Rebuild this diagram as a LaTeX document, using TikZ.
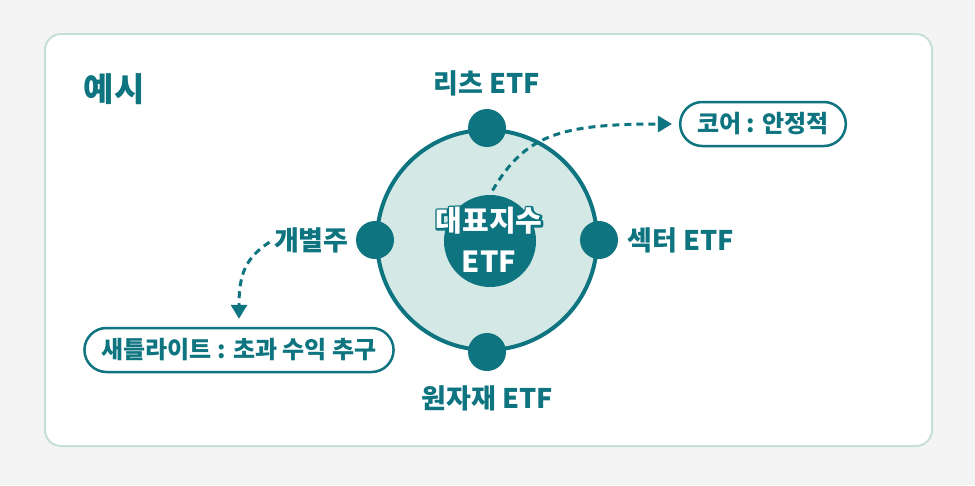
\documentclass[tikz,border=0pt]{standalone}
\usepackage{fontspec}
\setmainfont{Noto Sans CJK KR}
\usetikzlibrary{calc,positioning}
\usetikzlibrary{arrows.meta}
\definecolor{etfteal}{RGB}{14,116,128}
\definecolor{etflight}{RGB}{212,233,230}
\definecolor{panelline}{RGB}{200,222,218}
\definecolor{pagegray}{RGB}{244,244,244}
\tikzset{>={Triangle[width=16pt,length=14pt]}}
% outlined text via pdf text render mode
\newcommand{\strokeon}{\special{pdf:literal direct 0.055 0.455 0.502 RG 4 w 1 j 2 Tr}}
\newcommand{\strokeoff}{\special{pdf:literal direct 0 Tr}}

\begin{document}
\begin{tikzpicture}[x=1pt,y=-1pt]
      %%%%%%%%%%%%%%%%%%%%%%%%%%%%%%%%%%%%%%%%%%%%%%%%%%
      %% core-satellite example
      %%%%%%%%%%%%%%%%%%%%%%%%%%%%%%%%%%%%%%%%%%%%%%%%%%
      \tikzstyle{dnode} = [circle, fill=etfteal, minimum size=38pt, inner sep=0pt]
      \tikzstyle{lnode} = [text=etfteal, font=\bfseries\fontsize{27}{30}\selectfont, inner sep=1pt]
      \tikzstyle{pnode} = [draw=etfteal, line width=2.5pt, fill=white, rounded corners=22pt, minimum height=44pt, text=etfteal, font=\bfseries\fontsize{24}{27}\selectfont, inner xsep=17pt]
      \tikzstyle{inode} = [align=center, font=\bfseries\fontsize{29}{41}\selectfont]
      \tikzstyle{darrow} = [->, etfteal, line width=3pt, dash pattern=on 7pt off 5pt]
      \useasboundingbox[fill=pagegray] (0,0) rectangle (975,485);
      \draw[panelline, line width=2pt, fill=white, rounded corners=16pt] (45,34) rectangle (932,446);
      \node[text=etfteal, font=\bfseries\fontsize{33}{36}\selectfont] (title) at (114,89) {예시};
      %% ring and index ETF
      \node[circle, draw=etfteal, fill=etflight, line width=4pt, minimum size=220pt] (ring) at (487,240) {};
      \node[circle, fill=etfteal, minimum size=92pt] (idx) at (490,241) {};
      \node[inode, text=white] (idxline) at (489,240) {\strokeon 대표지수\\\strokeon ETF\strokeoff};
      \node[inode, text=white] (idxtext) at (idxline) {대표지수\\ETF};
      %% satellite dots
      \node[dnode] (dtop) at (ring.north) {};
      \node[dnode] (dright) at (ring.east) {};
      \node[dnode] (dbottom) at (ring.south) {};
      \node[dnode] (dleft) at (ring.west) {};
      \node[lnode] (reit) at (487,83) {리츠 ETF};
      \node[lnode, right=8pt of dright] (sector) {섹터 ETF};
      \node[lnode] (commod) at (487,398) {원자재 ETF};
      \node[lnode, left=6pt of dleft] (stock) {개별주};
      %% core / satellite boxes
      \node[pnode] (corebox) at (763,124) {코어 : 안정적};
      \node[pnode] (satbox) at (239,350) {새틀라이트 : 초과 수익 추구};
      \draw[darrow, shorten <=5pt, shorten >=7pt] (idx.north) .. controls (525,135) and (560,124) .. (corebox.west);
      \draw[darrow, shorten <=4pt, shorten >=8pt] (stock.west) .. controls (245,258) and (239,275) .. (satbox.north);
\end{tikzpicture}
\end{document}
